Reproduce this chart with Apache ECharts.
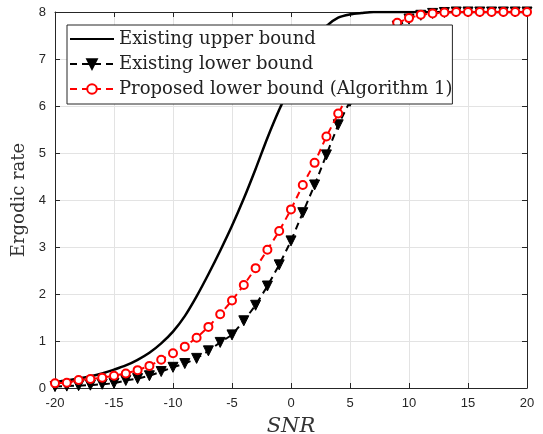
<!DOCTYPE html>
<html>
<head>
    <meta charset="utf-8"/>
    <title>Ergodic rate</title>
    <script src="https://cdn.jsdelivr.net/npm/echarts@6/dist/echarts.min.js"></script>
</head>
<body style="margin:0;background:#fff;">
<div id="main" style="width: 543px;height:434px;"></div>
<script type="text/javascript">
    // SNR points (dB)
    var snr = [-20,-19,-18,-17,-16,-15,-14,-13,-12,-11,-10,-9,-8,-7,-6,-5,-4,-3,-2,-1,0,
               1,2,3,4,5,6,7,8,9,10,11,12,13,14,15,16,17,18,19,20];
    var upperBound = [0.13,0.16,0.2,0.25,0.31,0.39,0.48,0.6,0.75,0.95,1.2,1.53,1.95,2.42,2.92,3.45,4.03,4.66,5.32,5.92,6.45,
                      6.95,7.38,7.7,7.88,7.95,7.98,8,8,8,8,8,8,8,8,8,8,8,8,8,8];
    var existingLower = [0.03,0.04,0.05,0.06,0.08,0.1,0.16,0.2,0.26,0.35,0.44,0.52,0.63,0.79,0.97,1.13,1.43,1.76,2.17,2.62,3.13,
                         3.73,4.32,4.96,5.6,6.1,6.6,7.05,7.4,7.7,7.85,7.93,7.97,7.99,8,8,8,8,8,8,8];
    var proposedLower = [0.1,0.11,0.17,0.19,0.22,0.26,0.31,0.38,0.47,0.6,0.74,0.88,1.07,1.3,1.57,1.86,2.19,2.55,2.94,3.34,3.8,
                         4.32,4.79,5.35,5.84,6.3,6.8,7.2,7.55,7.77,7.87,7.94,7.97,7.99,8,8,8,8,8,8,8];
    var xTicks = [-20, 20, 5];
    var yTicks = [0, 8, 1];

    function pairs(ys) {
        return snr.map(function (x, i) { return [x, ys[i]]; });
    }

    var tickColor = '#262626';
    var myChart = echarts.init(document.getElementById('main'));
    var option = {
        animation: false,
        backgroundColor: '#fff',
        grid: {left: 55, right: 16, top: 12, bottom: 46, show: false, outerBoundsMode: 'none', containLabel: false},
        legend: {
            orient: 'vertical',
            left: 67,
            top: 25,
            z: 20,
            itemWidth: 44,
            itemHeight: 12,
            itemGap: 7,
            padding: [5, 0, 6, 2],
            backgroundColor: '#fff',
            borderColor: '#262626',
            borderWidth: 1,
            borderRadius: 0,
            textStyle: {fontFamily: 'DejaVu Serif', fontSize: 18, color: '#222'},
            data: [
                {name: 'Existing upper bound', itemStyle: {opacity: 0}},
                {name: 'Existing lower bound'},
                {name: 'Proposed lower bound (Algorithm 1)', itemStyle: {color: '#f00', borderColor: '#f00'}}
            ]
        },
        xAxis: [{
            type: 'value',
            min: xTicks[0], max: xTicks[1], interval: xTicks[2],
            name: 'SNR',
            nameLocation: 'middle',
            nameGap: 28,
            nameTextStyle: {fontFamily: 'DejaVu Serif', fontStyle: 'italic', fontSize: 21, color: '#333'},
            axisLine: {onZero: false, lineStyle: {color: tickColor, width: 1}},
            axisTick: {inside: true, length: 5, lineStyle: {color: tickColor}},
            axisLabel: {color: tickColor, fontFamily: 'Liberation Sans', fontSize: 13, margin: 9},
            splitLine: {show: true, lineStyle: {color: '#e3e3e3'}}
        }, {
            type: 'value', position: 'top',
            min: xTicks[0], max: xTicks[1], interval: xTicks[2],
            axisLine: {show: true, onZero: false, lineStyle: {color: tickColor, width: 1}},
            axisTick: {show: true, inside: true, length: 5, lineStyle: {color: tickColor}},
            axisLabel: {show: false},
            splitLine: {show: false}
        }],
        yAxis: [{
            type: 'value',
            min: yTicks[0], max: yTicks[1], interval: yTicks[2],
            name: 'Ergodic rate',
            nameLocation: 'middle',
            nameGap: 20,
            nameTextStyle: {fontFamily: 'DejaVu Serif', fontSize: 18, color: '#333'},
            axisLine: {show: true, onZero: false, lineStyle: {color: tickColor, width: 1}},
            axisTick: {show: true, inside: true, length: 5, lineStyle: {color: tickColor}},
            axisLabel: {color: tickColor, fontFamily: 'Liberation Sans', fontSize: 13, margin: 9},
            splitLine: {show: true, lineStyle: {color: '#e3e3e3'}}
        }, {
            type: 'value', position: 'right',
            min: yTicks[0], max: yTicks[1], interval: yTicks[2],
            axisLine: {show: true, onZero: false, lineStyle: {color: tickColor, width: 1}},
            axisTick: {show: true, inside: true, length: 5, lineStyle: {color: tickColor}},
            axisLabel: {show: false},
            splitLine: {show: false}
        }],
        series: [{
            name: 'Existing upper bound',
            type: 'line',
            data: pairs(upperBound),
            smooth: 0.3,
            symbol: 'none',
            lineStyle: {color: '#000', width: 2.5},
            itemStyle: {color: '#000'},
            z: 3
        }, {
            name: 'Existing lower bound',
            type: 'line',
            data: pairs(existingLower),
            symbol: 'triangle',
            symbolRotate: 180,
            symbolSize: 10,
            lineStyle: {color: '#000', width: 2, type: [7, 5]},
            itemStyle: {color: '#000', borderColor: '#000', borderWidth: 1},
            z: 4
        }, {
            name: 'Proposed lower bound (Algorithm 1)',
            type: 'line',
            data: pairs(proposedLower),
            symbol: 'emptyCircle',
            symbolSize: 8,
            lineStyle: {color: '#f00', width: 2, type: [7, 5]},
            itemStyle: {color: '#f00', borderColor: '#f00', borderWidth: 2},
            z: 5
        }]
    };
    myChart.setOption(option);
</script>
</body>
</html>
